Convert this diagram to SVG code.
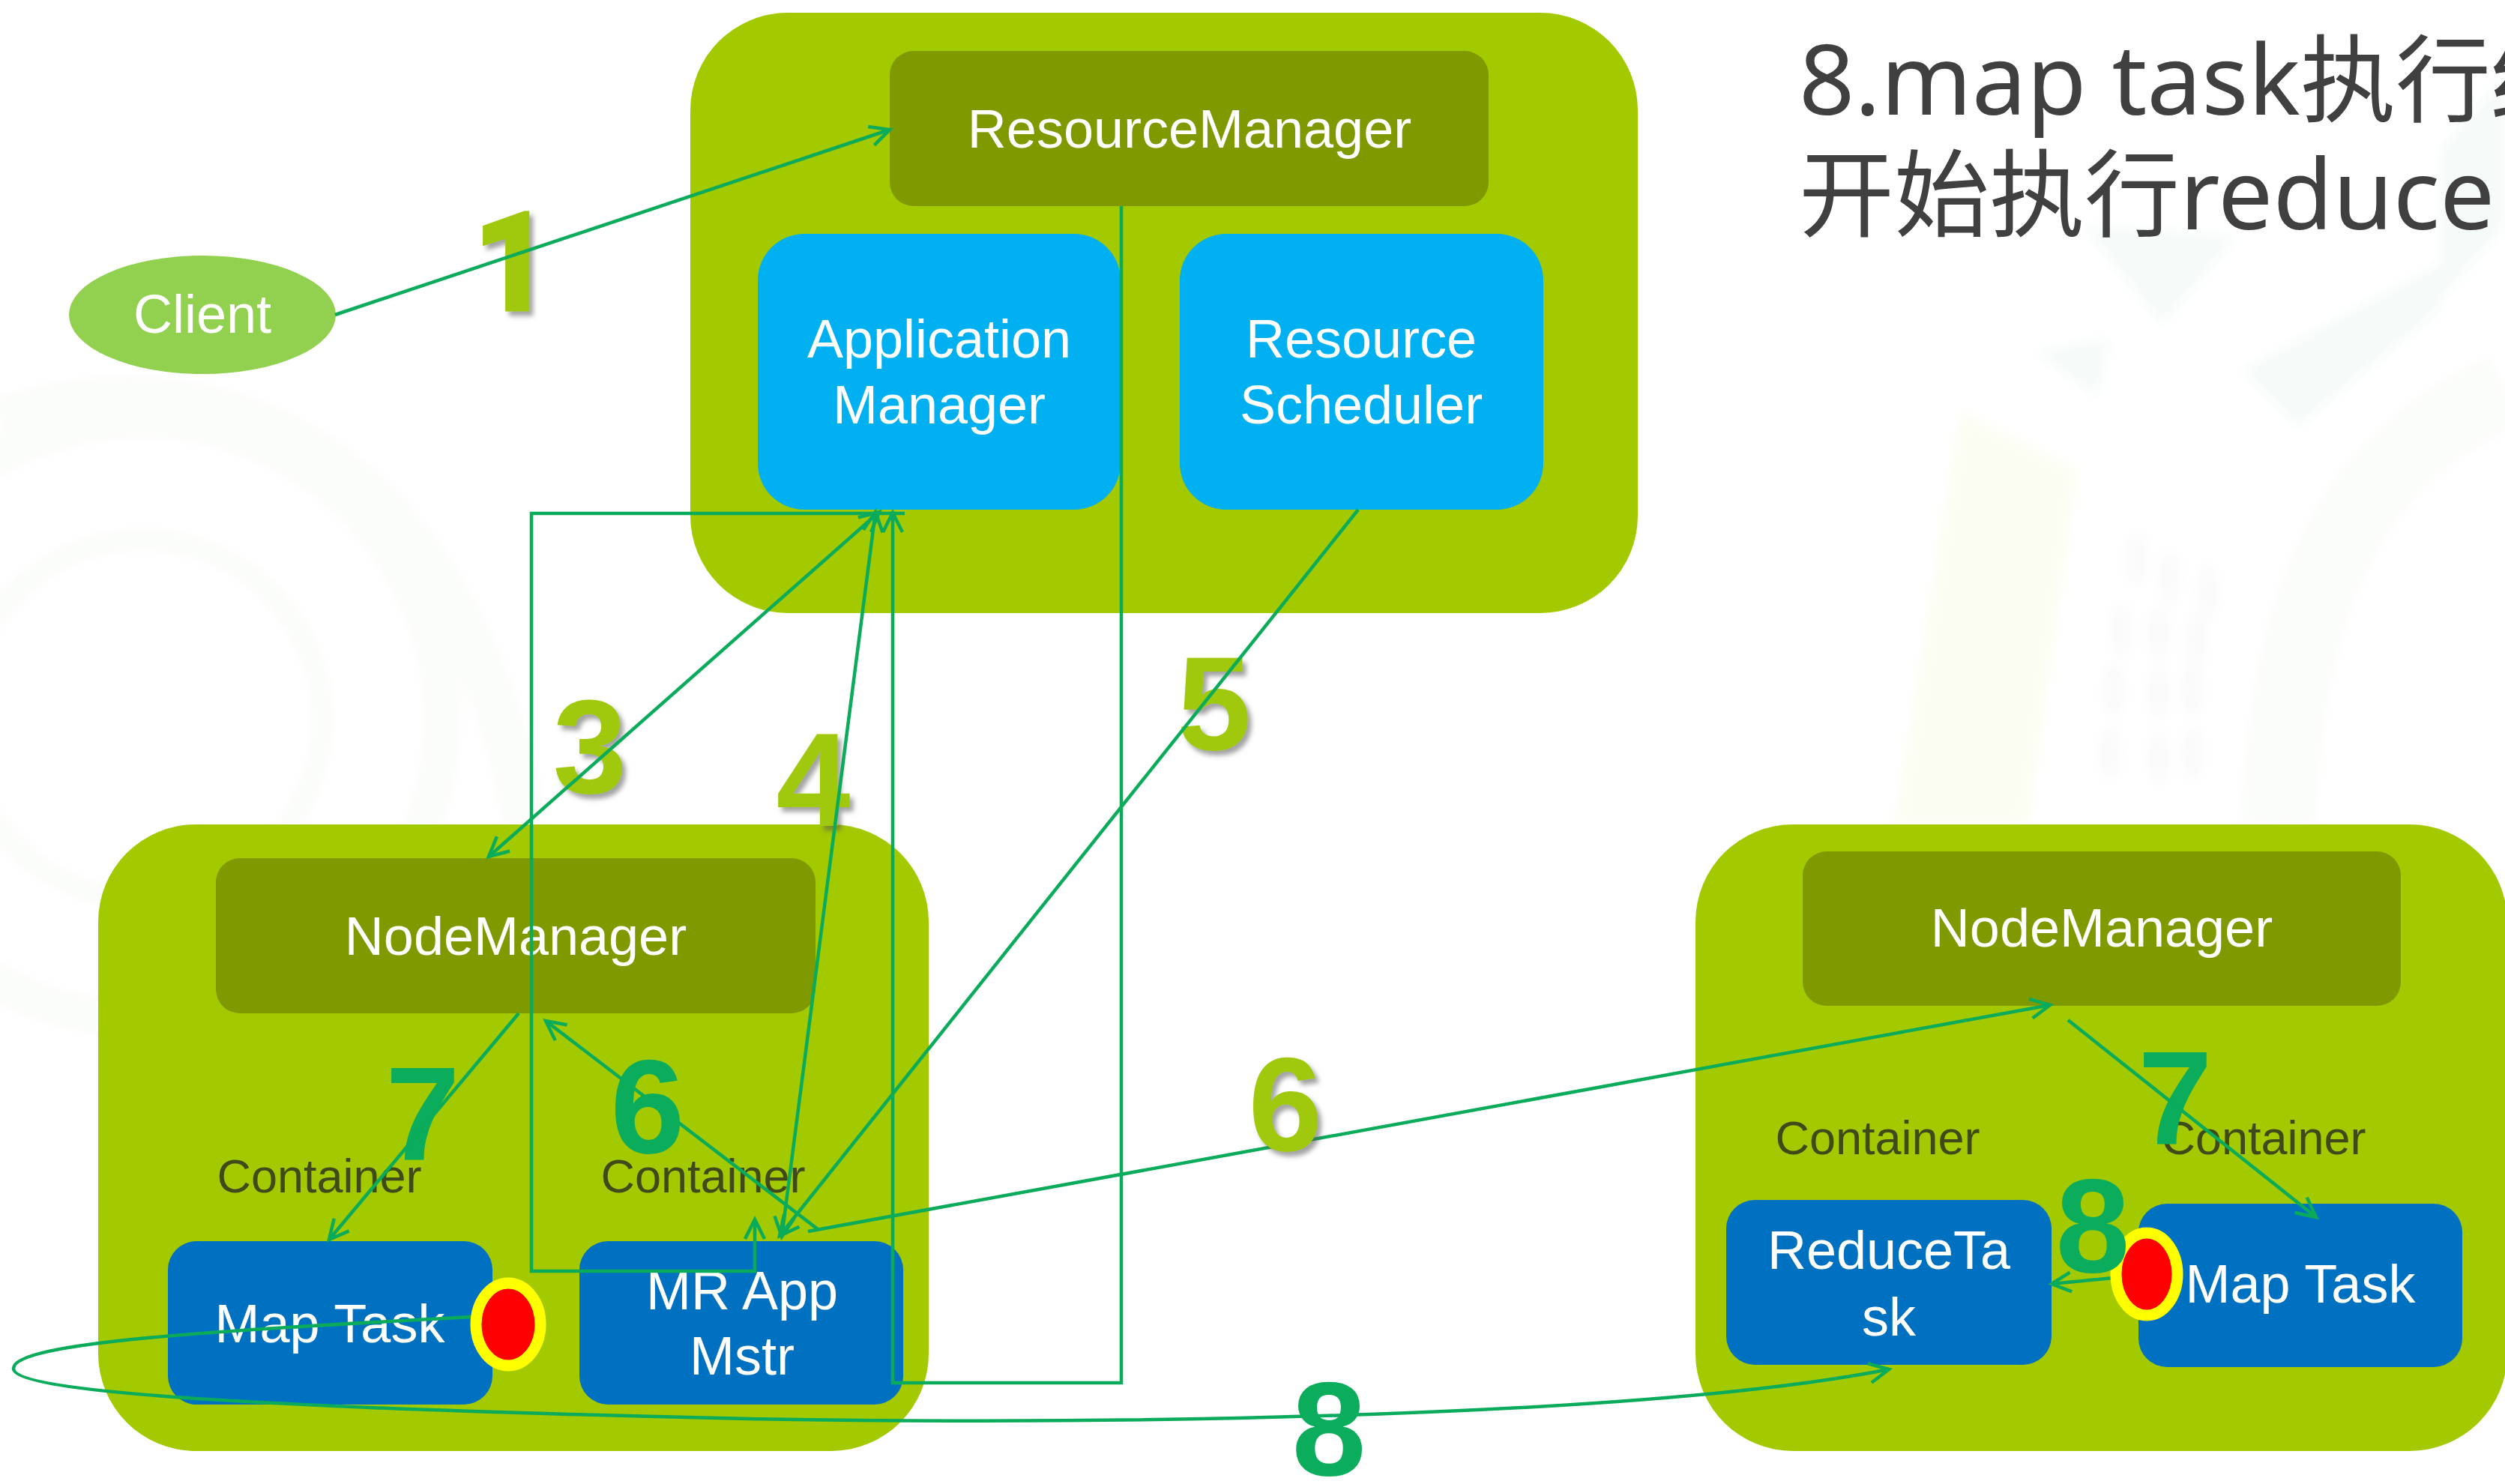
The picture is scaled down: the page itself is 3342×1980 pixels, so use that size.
<svg xmlns="http://www.w3.org/2000/svg" width="3342" height="1980" viewBox="0 0 3342 1980">
<defs>
<style>
.outer{fill:#a3c900}
.dark{fill:#7f9900}
.light{fill:#00b0f0}
.blue{fill:#0070c0}
.w{font-family:"Liberation Sans",Arial,sans-serif;font-size:72px;fill:#fff;text-anchor:middle}
.c{font-family:"Liberation Sans",Arial,sans-serif;font-size:63px;fill:#404a18;text-anchor:middle}
.n{font-family:"Liberation Sans",Arial,sans-serif;font-size:178px;font-weight:bold;text-anchor:middle}
.r{font-family:Roboto,"Liberation Sans",sans-serif;stroke:#a0c80a;stroke-width:7}
.g{fill:#a0c80a;filter:url(#sh)}
.e{fill:#0bad5c}
.title{font-family:"Noto Sans CJK SC","Noto Sans",sans-serif;font-size:127px;fill:#404040}
.lat{font-family:"Noto Sans","Noto Sans CJK SC",sans-serif;font-size:130px}
.l{fill:none;stroke:#0aab5a;stroke-width:4.5;marker-end:url(#a)}
.d{marker-start:url(#a)}
.red{fill:#f00;stroke:#ff0;stroke-width:15}
.by{fill:#fcfdf2}
.bb{fill:#f5fbf9}
.bd{fill:#fafafa}
.ring{fill:none;stroke:#fbfdfa}
</style>
<marker id="a" viewBox="-30 -15 34 30" refX="0" refY="0" markerWidth="34" markerHeight="30" markerUnits="userSpaceOnUse" orient="auto-start-reverse" overflow="visible">
<path d="M-26 -13L0 0L-26 13" fill="none" stroke="#0aab5a" stroke-width="4.5"/>
</marker>
<filter id="sh" x="-30%" y="-30%" width="170%" height="170%"><feDropShadow dx="5" dy="6" stdDeviation="3" flood-color="#555" flood-opacity=".55"/></filter>
<filter id="soft"><feGaussianBlur stdDeviation="8"/></filter>
</defs>
<rect width="3342" height="1980" fill="#fff"/>
<g id="background" filter="url(#soft)">
<circle class="ring" cx="190" cy="960" r="240" stroke-width="30"/>
<circle class="ring" cx="190" cy="960" r="400" stroke-width="50"/>
<path class="ring" d="M0 560C300 460 620 620 700 1100" stroke-width="60"/>
<path class="by" d="M2616 550L2771 626L2705 1100H2528Z"/>
<path class="bb" d="M2778 300L2984 315L2885 433Z"/>
<path class="bb" d="M2991 494L3256 351V412L3065 570Z"/>
<path class="bb" d="M2715 470L2815 450L2800 530Z"/>
<path class="bb" d="M3256 200L3342 100V300L3256 400Z"/>
<path class="ring" d="M3040 1100C3050 820 3120 620 3342 520" stroke-width="100"/>
<ellipse class="bd" cx="2850" cy="745" rx="14" ry="36"/><ellipse class="bd" cx="2895" cy="770" rx="14" ry="36"/><ellipse class="bd" cx="2945" cy="790" rx="14" ry="36"/>
<ellipse class="bd" cx="2830" cy="840" rx="14" ry="36"/><ellipse class="bd" cx="2880" cy="845" rx="14" ry="36"/><ellipse class="bd" cx="2930" cy="855" rx="14" ry="36"/>
<ellipse class="bd" cx="2820" cy="920" rx="14" ry="36"/><ellipse class="bd" cx="2880" cy="925" rx="14" ry="36"/><ellipse class="bd" cx="2925" cy="920" rx="14" ry="36"/>
<ellipse class="bd" cx="2815" cy="1005" rx="14" ry="36"/><ellipse class="bd" cx="2880" cy="1010" rx="14" ry="36"/><ellipse class="bd" cx="2925" cy="1005" rx="14" ry="36"/>
</g>
<g id="title"><text class="title" x="2400" y="153"><tspan class="lat">8.map task</tspan>执行结</text><text class="title" x="2400" y="306">开始执行<tspan class="lat">reduce</tspan></text></g>
<g id="rm-cluster"><rect class="outer" x="921" y="17" width="1264" height="801" rx="130"/></g>
<g id="resource-manager"><rect class="dark" x="1187" y="68" width="799" height="207" rx="32"/><text class="w" x="1587" y="197">ResourceManager</text></g>
<g id="application-manager"><rect class="light" x="1011" y="312" width="484" height="368" rx="62"/><text class="w" x="1253" y="477">Application</text><text class="w" x="1253" y="565">Manager</text></g>
<g id="resource-scheduler"><rect class="light" x="1574" y="312" width="485" height="368" rx="62"/><text class="w" x="1816" y="477">Resource</text><text class="w" x="1816" y="565">Scheduler</text></g>
<g id="client"><ellipse cx="270" cy="420" rx="178" ry="79" fill="#92d050"/><text class="w" x="270" y="444">Client</text></g>
<g id="node-left"><rect class="outer" x="131" y="1100" width="1108" height="836" rx="130"/><rect class="dark" x="288" y="1145" width="800" height="207" rx="32"/><text class="w" x="688" y="1274">NodeManager</text><text class="c" x="426" y="1591">Container</text><text class="c" x="938" y="1591">Container</text></g>
<g id="map-task-left"><rect class="blue" x="224" y="1656" width="433" height="218" rx="38"/><text class="w" x="440" y="1791">Map Task</text></g>
<g id="mr-app"><rect class="blue" x="773" y="1656" width="432" height="218" rx="38"/><text class="w" x="990" y="1747">MR App</text><text class="w" x="990" y="1834">Mstr</text></g>
<g id="node-right"><rect class="outer" x="2262" y="1100" width="1083" height="836" rx="130"/><rect class="dark" x="2405" y="1136" width="798" height="206" rx="32"/><text class="w" x="2804" y="1263">NodeManager</text><text class="c" x="2505" y="1540">Container</text><text class="c" x="3020" y="1540">Container</text></g>
<g id="reduce-task"><rect class="blue" x="2303" y="1601" width="434" height="220" rx="38"/><text class="w" x="2520" y="1693">ReduceTa</text><text class="w" x="2520" y="1782">sk</text></g>
<g id="map-task-right"><rect class="blue" x="2853" y="1606" width="432" height="218" rx="38"/><text class="w" x="3069" y="1738">Map Task</text></g>
<g id="labels-under">
<text class="n g r" x="684" y="412">1</text>
<text class="n g" x="787" y="1058">3</text>
<text class="n g" x="1085" y="1102">4</text>
<text class="n g" x="1620" y="1000">5</text>
<text class="n e" x="564" y="1548">7</text>
<text class="n e" x="2902" y="1527">7</text>
</g>
<g id="connectors">
<path class="l" d="M447 420L1187 173"/>
<path class="l d" d="M652 1143L1173 683"/>
<path class="l d" d="M1043 1650L1168 683"/>
<path class="l" d="M1812 680L1040 1649"/>
<path class="l" d="M1496 275V1845H1191V684"/>
<path class="l" d="M1207 685H709V1696H1007V1627"/>
<path class="l" d="M1091 1640L728 1362"/>
<path class="l" d="M1078 1643L2735 1341"/>
<path class="l" d="M692 1352L439 1654"/>
<path class="l" d="M2759 1361L3090 1624"/>
<path class="l" d="M2819 1705L2737 1713"/>
<path class="l" d="M630 1757C300 1775 18 1790 18 1826C18 1860 400 1880 1000 1893C1500 1902 2200 1890 2520 1827"/>
</g>
<g id="markers">
<ellipse class="red" cx="678" cy="1767" rx="43" ry="55"/>
<ellipse class="red" cx="2864" cy="1700" rx="41" ry="55"/>
</g>
<g id="labels-over">
<text class="n e" x="864" y="1538">6</text>
<text class="n g" x="1715" y="1535">6</text>
<text class="n e" x="2792" y="1697">8</text>
<text class="n e" x="1773" y="1968">8</text>
</g>
</svg>
